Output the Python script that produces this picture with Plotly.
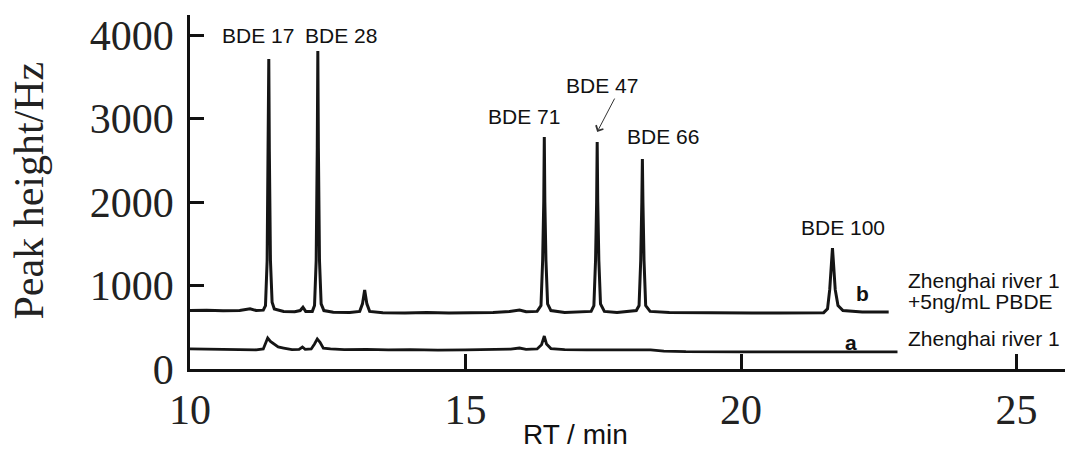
import plotly.graph_objects as go

# Trace b: Zhenghai river 1 + 5ng/mL PBDE (retention time, peak height)
rt_b = [10.00, 10.30, 10.60, 10.90, 11.09, 11.20, 11.33, 11.37, 11.40, 11.42, 11.43, 11.44, 11.46, 11.49, 11.53,
        11.70, 11.90, 12.00, 12.05, 12.10, 12.22, 12.26, 12.29, 12.31, 12.32, 12.33, 12.35, 12.38, 12.43,
        12.60, 12.90, 13.08, 13.13, 13.17, 13.21, 13.26, 13.50, 13.90, 14.30, 14.70, 15.10, 15.50, 15.80,
        15.98, 16.10, 16.30, 16.37, 16.40, 16.42, 16.43, 16.44, 16.46, 16.49, 16.55, 16.80, 17.12, 17.28,
        17.33, 17.36, 17.38, 17.39, 17.40, 17.42, 17.45, 17.52, 17.75, 18.00, 18.10, 18.15, 18.18, 18.20,
        18.21, 18.22, 18.24, 18.27, 18.35, 18.70, 19.20, 19.70, 20.20, 20.70, 21.20, 21.50, 21.57, 21.61,
        21.64, 21.66, 21.68, 21.71, 21.76, 21.85, 22.20, 22.68]
h_b = [700, 705, 698, 702, 722, 700, 705, 760, 1300, 2600, 3714, 2600, 1300, 800, 720,
       690, 685, 700, 740, 690, 690, 760, 1300, 2650, 3808, 2650, 1300, 780, 700,
       680, 678, 690, 780, 946, 780, 690, 675, 672, 678, 670, 673, 678, 690,
       707, 685, 690, 760, 1300, 2000, 2778, 2000, 1300, 780, 700, 678, 685, 690,
       760, 1300, 2000, 2718, 2000, 1300, 780, 690, 678, 688, 700, 760, 1300, 2000,
       2515, 2000, 1300, 760, 690, 676, 672, 674, 670, 672, 671, 675, 720, 950,
       1250, 1449, 1250, 950, 760, 700, 683, 683]

# Trace a: Zhenghai river 1
rt_a = [10.00, 10.40, 10.80, 11.20, 11.33, 11.38, 11.41, 11.46, 11.52, 11.60, 11.70, 11.85, 11.98, 12.04,
        12.09, 12.20, 12.26, 12.31, 12.36, 12.42, 12.55, 12.80, 13.20, 13.60, 14.00, 14.50, 15.00, 15.40,
        15.70, 15.82, 15.98, 16.10, 16.30, 16.38, 16.43, 16.47, 16.55, 16.80, 17.20, 17.60, 18.00, 18.36,
        18.60, 19.00, 20.00, 21.00, 22.00, 22.84]
h_a = [240, 235, 232, 230, 240, 320, 371, 330, 300, 265, 251, 232, 235, 263,
       235, 240, 300, 360, 320, 250, 240, 232, 235, 228, 232, 225, 230, 236,
       245, 238, 251, 235, 240, 290, 395, 300, 245, 232, 228, 230, 225, 228,
       215, 208, 206, 205, 204, 204]

# Peak labels
peak_names = ["BDE 17", "BDE 28", "BDE 71", "BDE 47", "BDE 66", "BDE 100"]
peak_label_rt = [11.24, 12.74, 16.07, 17.47, 18.59, 21.86]
peak_label_h = [4000, 3990, 3020, 3400, 2790, 1690]

x_ticks = [10, 15, 20, 25]
y_ticks = [0, 1000, 2000, 3000, 4000]

line_col = "#151515"
fig = go.Figure()
fig.add_trace(go.Scatter(x=rt_b, y=h_b, mode="lines", line=dict(color=line_col, width=3), showlegend=False))
fig.add_trace(go.Scatter(x=rt_a, y=h_a, mode="lines", line=dict(color=line_col, width=2.8), showlegend=False))

sans = "Liberation Sans, Arial, sans-serif"
serif = "Liberation Serif, Times New Roman, serif"

for name, xr, yh in zip(peak_names, peak_label_rt, peak_label_h):
    fig.add_annotation(x=xr, y=yh, text=name, showarrow=False, xanchor="center", yanchor="middle",
                       font=dict(family=sans, size=21, color="#111"))

# Arrow to BDE 47
fig.add_annotation(x=17.39, y=2840, ax=17.72, ay=3257, axref="x", ayref="y", text="", showarrow=True,
                   arrowhead=4, arrowsize=1.6, arrowwidth=1, arrowcolor="#333")

# Trace letters
fig.add_annotation(x=22.2, y=910, text="<b>b</b>", showarrow=False, font=dict(family=sans, size=21, color="#111"))
fig.add_annotation(x=21.99, y=323, text="<b>a</b>", showarrow=False, font=dict(family=sans, size=21, color="#111"))

# Right-hand sample labels
fig.add_annotation(x=23.0, y=1066, text="Zhenghai river 1", showarrow=False, xanchor="left",
                   font=dict(family=sans, size=21, color="#111"))
fig.add_annotation(x=23.0, y=814, text="+5ng/mL PBDE", showarrow=False, xanchor="left",
                   font=dict(family=sans, size=21, color="#111"))
fig.add_annotation(x=23.0, y=371, text="Zhenghai river 1", showarrow=False, xanchor="left",
                   font=dict(family=sans, size=21, color="#111"))

# Axis titles
fig.add_annotation(xref="paper", yref="paper", x=-0.1845, y=0.503, text="Peak height/Hz", textangle=-90,
                   showarrow=False, xanchor="center", yanchor="middle", font=dict(family=serif, size=42, color="#222"))
fig.add_annotation(xref="paper", yref="paper", x=0.440, y=-0.2316, text="RT / min", showarrow=False,
                   xanchor="center", yanchor="bottom", borderpad=0, font=dict(family=sans, size=28, color="#111"))

fig.update_xaxes(range=[10, 25.88], tickvals=x_ticks, ticktext=[str(v) for v in x_ticks],
                 ticks="inside", ticklen=15, tickwidth=2.5, tickcolor="#111",
                 showline=True, linewidth=2.8, linecolor="#111", showgrid=False, zeroline=False,
                 tickfont=dict(family=serif, size=42, color="#222"), ticklabelstandoff=2)
fig.update_yaxes(range=[0, 4240], tickvals=y_ticks, ticktext=[str(v) for v in y_ticks],
                 ticks="inside", ticklen=14, tickwidth=2.5, tickcolor="#111",
                 showline=True, linewidth=2.8, linecolor="#111", showgrid=False, zeroline=False,
                 tickfont=dict(family=serif, size=42, color="#222"), ticklabelstandoff=5)

fig.update_layout(width=1065, height=452, margin=dict(l=190, r=0, t=15, b=83),
                  plot_bgcolor="white", paper_bgcolor="white", showlegend=False)

fig.write_html("out.html")
